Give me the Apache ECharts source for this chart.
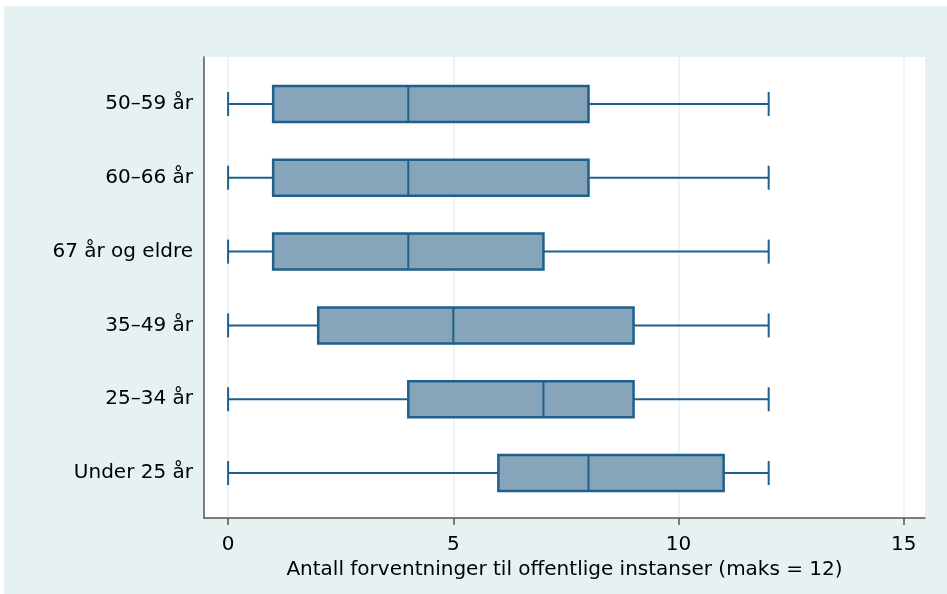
<!DOCTYPE html>
<html><head><meta charset="utf-8">
<script src="https://cdn.jsdelivr.net/npm/echarts@6/dist/echarts.min.js"></script>
<style>html,body{margin:0;padding:0;background:#fff}#c{width:947px;height:594px}</style>
</head><body><div id="c"></div>
<script>
const categories = ['50–59 år', '60–66 år', '67 år og eldre', '35–49 år', '25–34 år', 'Under 25 år'];
const mins    = [0, 0, 0, 0, 0, 0];
const q1s     = [1, 1, 1, 2, 4, 6];
const medians = [4, 4, 4, 5, 7, 8];
const q3s     = [8, 8, 7, 9, 9, 11];
const maxs    = [12, 12, 12, 12, 12, 12];
const xTicks  = [0, 5, 10, 15];

const data = categories.map((c, i) => [i, mins[i], q1s[i], medians[i], q3s[i], maxs[i]]);
const chart = echarts.init(document.getElementById('c'));
const L = 204, R = 947 - 925, T = 57, B = 594 - 518;
const font = 'DejaVu Sans, Liberation Sans, Arial, sans-serif';
const edge = '#1f5f8b';
chart.setOption({
  backgroundColor: '#ffffff',
  animation: false,
  graphic: [{ type: 'rect', shape: { x: 4, y: 6, width: 943, height: 588 }, style: { fill: '#e6f1f2' }, z: -100, silent: true }],
  grid: [
    { left: L, right: R, top: T, bottom: B, show: true, backgroundColor: '#ffffff', borderWidth: 0 },
    { left: L, right: R, top: 67, bottom: 594 - 510, show: false }
  ],
  xAxis: [
    { type: 'value', gridIndex: 0, min: -0.535, max: 15.47,
      axisLine: { show: true, onZero: false, lineStyle: { color: '#555', width: 1.5 } },
      axisTick: { show: true, length: 7, lineStyle: { color: '#555', width: 1.5 }, customValues: xTicks },
      axisLabel: { fontFamily: font, fontSize: 20, color: '#000', margin: 17, customValues: xTicks, showMinLabel: true, showMaxLabel: true },
      splitLine: { show: true, lineStyle: { color: '#e8f1f3', width: 1.5 }, customValues: xTicks },
      name: 'Antall forventninger til offentlige instanser (maks = 12)', nameLocation: 'middle', nameGap: 42,
      nameTextStyle: { fontFamily: font, fontSize: 20, color: '#000' }
    },
    { type: 'value', gridIndex: 1, min: -0.535, max: 15.47, show: false }
  ],
  yAxis: [
    { type: 'value', gridIndex: 0, min: 0, max: 1,
      axisLine: { show: true, onZero: false, lineStyle: { color: '#555', width: 1.5 } },
      axisTick: { show: false }, axisLabel: { show: false }, splitLine: { show: false } },
    { type: 'category', gridIndex: 1, data: categories, inverse: true,
      axisLine: { show: false, onZero: false },
      axisTick: { show: false },
      axisLabel: { fontFamily: font, fontSize: 20, color: '#000', margin: 11 },
      splitLine: { show: false } }
  ],
  series: [{
    type: 'custom', xAxisIndex: 1, yAxisIndex: 1,
    data: data,
    encode: { x: [1, 2, 3, 4, 5], y: 0 },
    renderItem: function (params, api) {
      const ci = api.value(0);
      const pMin = api.coord([api.value(1), ci]);
      const pQ1 = api.coord([api.value(2), ci]);
      const pMed = api.coord([api.value(3), ci]);
      const pQ3 = api.coord([api.value(4), ci]);
      const pMax = api.coord([api.value(5), ci]);
      const y = pMin[1], h = 36, cap = 12;
      const ls = { stroke: edge, lineWidth: 2 };
      return { type: 'group', children: [
        { type: 'line', shape: { x1: pMin[0], y1: y, x2: pQ1[0], y2: y }, style: ls },
        { type: 'line', shape: { x1: pQ3[0], y1: y, x2: pMax[0], y2: y }, style: ls },
        { type: 'line', shape: { x1: pMin[0], y1: y - cap, x2: pMin[0], y2: y + cap }, style: ls },
        { type: 'line', shape: { x1: pMax[0], y1: y - cap, x2: pMax[0], y2: y + cap }, style: ls },
        { type: 'rect', shape: { x: pQ1[0], y: y - h / 2, width: pQ3[0] - pQ1[0], height: h }, style: { fill: '#87a5ba', stroke: edge, lineWidth: 2.5 } },
        { type: 'line', shape: { x1: pMed[0], y1: y - h / 2, x2: pMed[0], y2: y + h / 2 }, style: ls }
      ]};
    }
  }]
});
</script></body></html>
